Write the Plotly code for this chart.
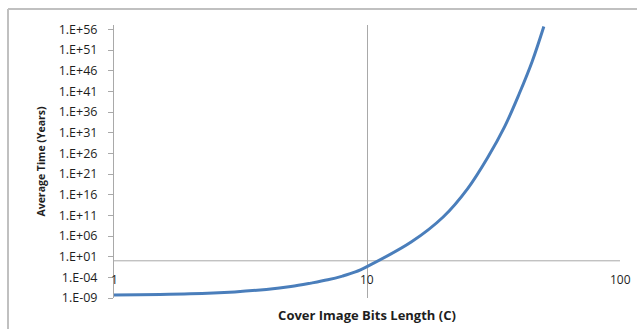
import math
import plotly.graph_objects as go

# Cover image bits length (C) and average time in years
bits_length = [1, 2, 3, 4, 5, 6, 7, 8, 9, 10, 15, 20, 25, 30, 35, 40, 45, 50]
average_years = [
    5e-9, 1e-8, 3e-8, 1.2e-7, 6e-7, 4e-6, 2.5e-5, 2e-4, 2e-3, 4e-2,
    4e4, 4e10, 3e17, 1e25, 3e32, 3e40, 2e48, 5e56,
]

# y-axis tick values (every five decades) and their Excel-style labels
y_tick_values = [1e-9, 1e-4, 1e1, 1e6, 1e11, 1e16, 1e21, 1e26, 1e31, 1e36, 1e41, 1e46, 1e51, 1e56]
y_tick_labels = ["1.E-09", "1.E-04", "1.E+01", "1.E+06", "1.E+11", "1.E+16", "1.E+21",
                 "1.E+26", "1.E+31", "1.E+36", "1.E+41", "1.E+46", "1.E+51", "1.E+56"]

# x-axis ticks
x_tick_values = [1, 10, 100]
x_tick_labels = ["1", "10", "100"]

# the horizontal axis crosses the vertical one at y = 1
axis_cross_y = 1

AXIS_GREY = "#a9a9a9"
BORDER_GREY = "#c0c0c0"
TEXT = "#1e1e1e"
FONT = "Open Sans"

fig = go.Figure()

# horizontal axis line drawn at the crossing value
fig.add_trace(go.Scatter(
    x=[x_tick_values[0], x_tick_values[-1]], y=[axis_cross_y, axis_cross_y],
    mode="lines", line=dict(color=AXIS_GREY, width=1),
    hoverinfo="skip", showlegend=False,
))

fig.add_trace(go.Scatter(
    x=bits_length, y=average_years,
    mode="lines", line=dict(color="#4a7ebb", width=3, shape="spline", smoothing=1.0),
    showlegend=False,
))

# x tick labels sit just under the crossing axis line
for xv, xt in zip(x_tick_values, x_tick_labels):
    fig.add_annotation(
        x=math.log10(xv), y=0.0695, xref="x", yref="paper",
        text=xt, showarrow=False, xanchor="center", yanchor="middle",
        font=dict(family=FONT, size=12, color=TEXT),
    )

# outer chart border: top and left edges (the others fall outside the page)
border_left = -0.2095
border_top = 1.0585
fig.add_shape(type="line", xref="paper", yref="paper",
              x0=border_left, x1=1.1, y0=border_top, y1=border_top,
              line=dict(color=BORDER_GREY, width=2), layer="above")
fig.add_shape(type="line", xref="paper", yref="paper",
              x0=border_left, x1=border_left, y0=-0.2, y1=border_top,
              line=dict(color=BORDER_GREY, width=2), layer="above")
# the same frame as an empty bordered box anchored at the top-left corner
fig.add_annotation(
    x=border_left, y=border_top, xref="paper", yref="paper",
    xanchor="left", yanchor="top", text=" ", showarrow=False,
    width=700, height=400, borderpad=0,
    bordercolor=BORDER_GREY, borderwidth=1, bgcolor="rgba(0,0,0,0)",
)

fig.update_layout(
    template="none",
    width=637, height=329,
    margin=dict(l=114, r=17, t=25, b=31, autoexpand=False),
    paper_bgcolor="white", plot_bgcolor="white",
    font=dict(family=FONT, size=12, color=TEXT),
    xaxis=dict(
        type="log", range=[0, 2], automargin=False,
        tickvals=x_tick_values, showticklabels=False, ticks="",
        showgrid=True, gridcolor=AXIS_GREY, gridwidth=1,
        showline=False, zeroline=False,
        title=dict(text="<b>Cover Image Bits Length (C)</b>",
                   font=dict(family=FONT, size=13, color=TEXT), standoff=12),
    ),
    yaxis=dict(
        type="log", range=[-9, 57.05], automargin=False,
        tickvals=y_tick_values, ticktext=y_tick_labels,
        ticks="outside", ticklen=5, tickcolor=AXIS_GREY, tickwidth=1,
        ticklabelstandoff=8,
        showgrid=False, zeroline=False,
        showline=True, linecolor=AXIS_GREY, linewidth=1,
        tickfont=dict(family=FONT, size=12.5, color=TEXT),
        title=dict(text="<b>Average Time (Years)</b>",
                   font=dict(family=FONT, size=10.5, color=TEXT), standoff=10),
    ),
)

fig.write_html("out.html")
